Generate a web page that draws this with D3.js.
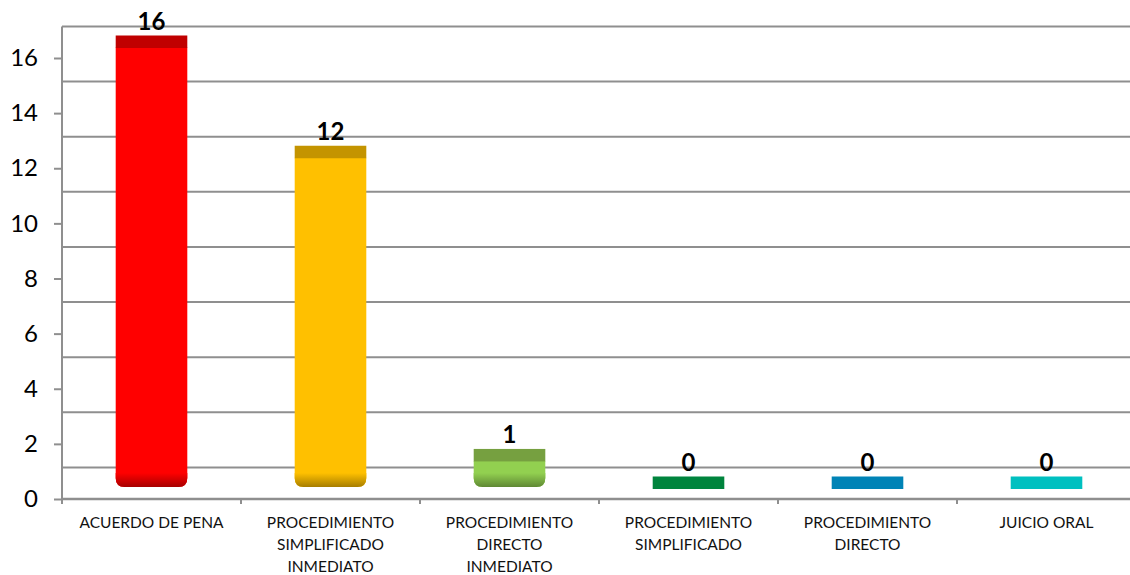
<!DOCTYPE html>
<html><head><meta charset="utf-8">
<script src="https://cdn.jsdelivr.net/npm/d3@7"></script>
<style>
html,body{margin:0;padding:0;background:#fff;}
svg{display:block;font-family:Lato,"Open Sans",sans-serif;}
</style></head>
<body>
<svg id="chart" width="1130" height="575"></svg>
<script>
const categories = [
  ["ACUERDO DE PENA"],
  ["PROCEDIMIENTO","SIMPLIFICADO","INMEDIATO"],
  ["PROCEDIMIENTO","DIRECTO","INMEDIATO"],
  ["PROCEDIMIENTO","SIMPLIFICADO"],
  ["PROCEDIMIENTO","DIRECTO"],
  ["JUICIO ORAL"]
];
const values = [16, 12, 1, 0, 0, 0];
const frontColors = ["#ff0000","#ffc000","#92d050","#00843d","#0083b6","#00c0c0"];
const topColors   = ["#c00000","#c49400","#76a040","#00843d","#0083b6","#00c0c0"];
const yTicks = [0,2,4,6,8,10,12,14,16];
const gridValues = [2,4,6,8,10,12,14,16,18];

const svg = d3.select("#chart");
const x = d3.scaleBand().domain(d3.range(categories.length)).range([62,1136]).paddingInner(0.6).paddingOuter(0.3);
const y = d3.scaleLinear().domain([0,16]).range([499,58]);
const wallShift = 23.5;

const defs = svg.append("defs");
frontColors.forEach((c,i)=>{
  const g = defs.append("linearGradient").attr("id","g"+i).attr("x1",0).attr("y1",0).attr("x2",0).attr("y2",1);
  g.append("stop").attr("offset","0%").attr("stop-color",c);
  g.append("stop").attr("offset","100%").attr("stop-color",d3.color(c).darker(1.2));
});

svg.append("g").selectAll("line").data(gridValues).join("line")
  .attr("x1",62).attr("x2",1130)
  .attr("y1",d=>y(d)+wallShift).attr("y2",d=>y(d)+wallShift)
  .attr("stroke","#8f8f8f").attr("stroke-width",2);

svg.append("line").attr("x1",62).attr("x2",1130).attr("y1",y(0)).attr("y2",y(0))
  .attr("stroke","#8f8f8f").attr("stroke-width",2.5);

const yAxis = d3.axisLeft(y).tickValues(yTicks).tickSize(8).tickPadding(16).tickFormat(d3.format("d"));
const ya = svg.append("g").attr("transform","translate(62,0)").call(yAxis);
ya.select(".domain").remove();
ya.selectAll(".tick line").attr("stroke","#8f8f8f").attr("stroke-width",2);
ya.selectAll(".tick text").attr("font-size",24).attr("fill","#000").attr("font-family","Lato");
svg.append("line").attr("x1",62).attr("x2",62).attr("y1",y(18)+wallShift).attr("y2",y(0)+4)
  .attr("stroke","#8f8f8f").attr("stroke-width",2);

svg.append("g").selectAll("line").data(d3.range(categories.length+1)).join("line")
  .attr("x1",i=>62+i*x.step()).attr("x2",i=>62+i*x.step())
  .attr("y1",y(0)).attr("y2",y(0)+5)
  .attr("stroke","#8f8f8f").attr("stroke-width",2);

const bw = x.bandwidth();
const r = 9;
const bars = svg.append("g");
values.forEach((v,i)=>{
  const x0 = x(i), x1 = x(i)+bw;
  const topFront = y(v) - 10.5;
  const bottom = y(0) - 12;
  if (v > 0) {
    const p = d3.path();
    p.moveTo(x0, topFront);
    p.lineTo(x1, topFront);
    p.lineTo(x1, bottom - r);
    p.quadraticCurveTo(x1, bottom, x1 - r, bottom);
    p.lineTo(x0 + r, bottom);
    p.quadraticCurveTo(x0, bottom, x0, bottom - r);
    p.closePath();
    bars.append("path").attr("d",p.toString()).attr("fill",frontColors[i]);
    const gh = 14;
    const p2 = d3.path();
    p2.moveTo(x0, bottom - gh);
    p2.lineTo(x1, bottom - gh);
    p2.lineTo(x1, bottom - r);
    p2.quadraticCurveTo(x1, bottom, x1 - r, bottom);
    p2.lineTo(x0 + r, bottom);
    p2.quadraticCurveTo(x0, bottom, x0, bottom - r);
    p2.closePath();
    bars.append("path").attr("d",p2.toString()).attr("fill","url(#g"+i+")");
  }
  bars.append("rect").attr("x",x0).attr("width",bw)
    .attr("y",y(v)-22.5).attr("height",12.5)
    .attr("fill",topColors[i]);
});

svg.append("g").selectAll("text").data(values).join("text")
  .attr("x",(d,i)=>x(i)+bw/2).attr("y",d=>y(d)-28)
  .attr("text-anchor","middle").attr("font-size",24).attr("font-weight","bold")
  .attr("fill","#000").text(d=>d);

const cl = svg.append("g");
categories.forEach((lines,i)=>{
  const t = cl.append("text").attr("x",x(i)+bw/2).attr("y",528)
    .attr("text-anchor","middle").attr("font-size",15.5).attr("fill","#111");
  lines.forEach((ln,j)=>{
    t.append("tspan").attr("x",x(i)+bw/2).attr("y",528+j*22).text(ln);
  });
});
</script>
</body></html>
